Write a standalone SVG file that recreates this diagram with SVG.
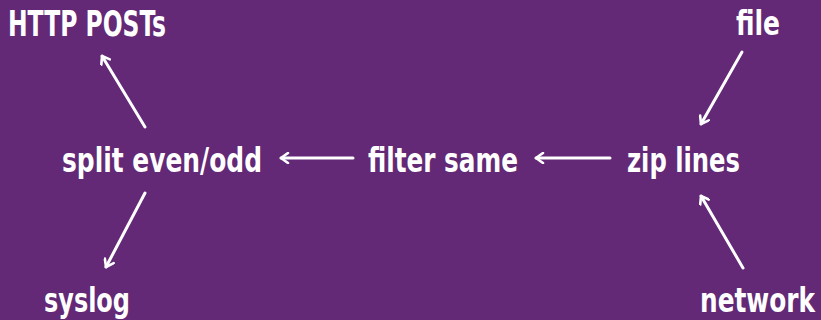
<svg xmlns="http://www.w3.org/2000/svg" width="821" height="320" viewBox="0 0 821 320">
<defs>
<marker id="ah" viewBox="0 0 12 12" refX="10" refY="6" markerWidth="12" markerHeight="12" markerUnits="userSpaceOnUse" orient="auto">
<path d="M3,1 L10,6 L3,11" fill="none" stroke="#fff" stroke-width="2.6" stroke-linecap="round" stroke-linejoin="round"/>
</marker>
<style>
text{font-family:"DejaVu Sans Condensed","DejaVu Sans",sans-serif;font-weight:bold;fill:#fff;font-stretch:condensed}
.c line{stroke:#fff;stroke-width:3;stroke-linecap:round;marker-end:url(#ah)}
</style>
</defs>
<rect width="821" height="320" fill="#632876"/>
<g id="http"><text x="8" y="36" font-size="36" textLength="158" lengthAdjust="spacingAndGlyphs">HTTP POSTs</text></g>
<g id="file"><text x="736" y="35" font-size="34" textLength="44" lengthAdjust="spacingAndGlyphs">file</text></g>
<g id="split"><text x="62" y="172" font-size="34" textLength="200" lengthAdjust="spacingAndGlyphs">split even/odd</text></g>
<g id="filter"><text x="368" y="172" font-size="34" textLength="150" lengthAdjust="spacingAndGlyphs">filter same</text></g>
<g id="zip"><text x="627" y="172" font-size="34" textLength="113" lengthAdjust="spacingAndGlyphs">zip lines</text></g>
<g id="syslog"><text x="44" y="312" font-size="34" textLength="86" lengthAdjust="spacingAndGlyphs">syslog</text></g>
<g id="network"><text x="700" y="312" font-size="34" textLength="115" lengthAdjust="spacingAndGlyphs">network</text></g>
<g class="c">
<line x1="145" y1="127" x2="102" y2="56"/>
<line x1="742" y1="52" x2="701" y2="124"/>
<line x1="145" y1="193" x2="106" y2="267"/>
<line x1="743" y1="268" x2="701" y2="196"/>
<line x1="610" y1="158" x2="536" y2="158"/>
<line x1="353" y1="158" x2="281" y2="158"/>
</g>
</svg>
